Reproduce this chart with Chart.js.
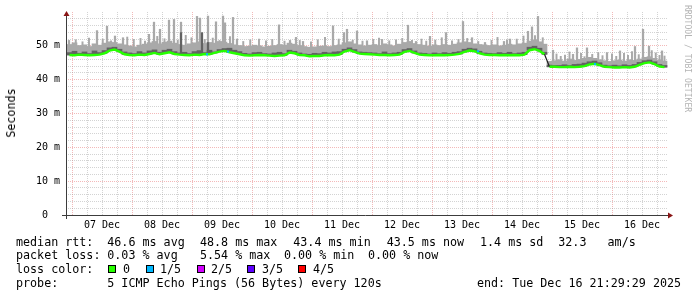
<!DOCTYPE html>
<html>
<head>
<meta charset="utf-8">
<title>median rtt</title>
<script src="https://cdn.jsdelivr.net/npm/chart.js@4.4.1/dist/chart.umd.min.js"></script>
<style>
  body { margin: 0; background: #fff; }
  #wrap { position: relative; width: 697px; height: 297px; font-family: 'DejaVu Sans Mono', monospace; color: #000; overflow: hidden; }
  #graph { position: absolute; left: 0; top: 0; }
  .txt { position: absolute; font-size: 11.7px; line-height: 14px; white-space: pre; }
  .box { position: absolute; width: 6px; height: 6px; border: 1px solid #000; }
  #ylabel { position: absolute; left: 11px; top: 113px; font-size: 11.7px; line-height: 14px; white-space: nowrap; transform: translate(-50%, -50%) rotate(-90deg); }
  #credit { position: absolute; left: 683px; top: 5px; font-size: 8.1px; line-height: 9px; color: #b4b4b4; writing-mode: vertical-rl; white-space: nowrap; }
</style>
</head>
<body>
<div id="wrap">
  <canvas id="graph" width="697" height="297"></canvas>
  <div id="ylabel">Seconds</div>
  <div id="credit">RRDTOOL / TOBI OETIKER</div>

  <div class="txt" style="left:16px; top:234.5px">median rtt:</div>
  <div class="txt" style="left:107.3px; top:234.5px">46.6 ms avg</div>
  <div class="txt" style="left:200px; top:234.5px">48.8 ms max</div>
  <div class="txt" style="left:293.3px; top:234.5px">43.4 ms min</div>
  <div class="txt" style="left:386.7px; top:234.5px">43.5 ms now</div>
  <div class="txt" style="left:480px; top:234.5px">1.4 ms sd</div>
  <div class="txt" style="left:558.3px; top:234.5px">32.3   am/s</div>

  <div class="txt" style="left:16px; top:248.3px">packet loss:</div>
  <div class="txt" style="left:107.3px; top:248.3px">0.03 % avg</div>
  <div class="txt" style="left:200px; top:248.3px">5.54 % max</div>
  <div class="txt" style="left:284px; top:248.3px">0.00 % min</div>
  <div class="txt" style="left:368px; top:248.3px">0.00 % now</div>

  <div class="txt" style="left:16px; top:262.1px">loss color:</div>
  <div class="box" style="left:108px; top:265px; background:#26ff00"></div>
  <div class="txt" style="left:123px; top:262.1px">0</div>
  <div class="box" style="left:146px; top:265px; background:#00b8ff"></div>
  <div class="txt" style="left:160px; top:262.1px">1/5</div>
  <div class="box" style="left:197px; top:265px; background:#d200ff"></div>
  <div class="txt" style="left:211px; top:262.1px">2/5</div>
  <div class="box" style="left:247px; top:265px; background:#5e00ff"></div>
  <div class="txt" style="left:262px; top:262.1px">3/5</div>
  <div class="box" style="left:298px; top:265px; background:#ff0000"></div>
  <div class="txt" style="left:313px; top:262.1px">4/5</div>

  <div class="txt" style="left:16px; top:275.9px">probe:</div>
  <div class="txt" style="left:107.3px; top:275.9px">5 ICMP Echo Pings (56 Bytes) every 120s</div>
  <div class="txt" style="left:477px; top:275.9px">end: Tue Dec 16 21:29:29 2025</div>
</div>

<script>
'use strict';

// data -----------------------------------------------------------------------
// hours are counted from 07 Dec 00:00, smoke is kept in two-hour bins
let firstBinHour = -1;
let binStep = 2;
let dayLabels = ['07 Dec', '08 Dec', '09 Dec', '10 Dec', '11 Dec', '12 Dec', '13 Dec', '14 Dec', '15 Dec', '16 Dec'];

// median rtt per bin (ms)
let medianRtt = [
  47.3, 47.2, 47.4, 47.3, 47.2, 47.3, 47.4, 47.8, 48.6, 48.9,
  48.3, 47.5, 47.3, 47.2, 47.4, 47.3, 47.6, 47.9, 47.5, 47.8,
  48.1, 47.6, 47.4, 47.3, 47.2, 47.4, 47.3, 47.6, 47.5, 47.9,
  48.3, 48.5, 48.1, 47.8, 47.5, 47.2, 47.1, 47.2, 47.3, 47.2,
  47.1, 47.0, 47.1, 47.2, 48.0, 47.8, 47.3, 47.2, 46.9, 47.0,
  47.0, 47.2, 47.3, 47.2, 47.4, 48.3, 48.7, 48.2, 47.7, 47.6,
  47.5, 47.4, 47.3, 47.3, 47.2, 47.3, 47.4, 48.2, 48.5, 47.9,
  47.4, 47.3, 47.2, 47.2, 47.3, 47.2, 47.3, 47.4, 47.6, 48.2,
  48.6, 48.4, 47.8, 47.4, 47.3, 47.3, 47.2, 47.3, 47.2, 47.3,
  47.2, 47.4, 48.7, 49.0, 48.5, 47.5, 43.8, 43.8, 43.7, 43.7,
  43.8, 43.7, 43.8, 44.0, 44.5, 44.7, 44.3, 43.8, 43.7, 43.6,
  43.6, 43.7, 43.6, 43.8, 44.4, 44.9, 45.1, 44.6, 43.9, 43.7
];

// top of the dark smoke per bin (ms)
let smokeDark = [
  48.0, 48.4, 47.8, 48.2, 47.7, 48.5, 48.0, 48.6, 49.4, 49.6,
  49.0, 48.2, 47.9, 47.7, 48.3, 47.9, 48.5, 48.8, 48.1, 48.7,
  49.0, 48.3, 47.9, 48.1, 47.7, 48.3, 48.6, 48.0, 48.7, 48.2,
  48.9, 49.2, 49.3, 48.7, 48.3, 47.8, 47.6, 48.0, 48.1, 47.7,
  47.6, 47.9, 48.1, 47.7, 48.7, 48.4, 47.9, 47.6, 47.5, 47.8,
  47.7, 48.1, 47.9, 48.2, 48.3, 49.0, 49.4, 48.9, 48.2, 48.1,
  48.0, 47.9, 47.7, 48.2, 47.7, 47.9, 48.1, 48.9, 49.2, 48.5,
  47.9, 47.8, 47.6, 47.9, 47.7, 48.0, 47.8, 48.1, 48.3, 49.0,
  49.3, 49.1, 48.4, 47.9, 47.8, 47.7, 48.0, 47.8, 48.1, 47.7,
  47.9, 48.1, 49.6, 49.9, 49.3, 48.1, 44.3, 44.2, 44.2, 44.4,
  44.2, 44.5, 44.6, 44.9, 45.3, 45.5, 45.0, 44.3, 44.1, 44.3,
  44.1, 44.4, 44.2, 44.5, 45.1, 45.6, 45.8, 45.3, 44.5, 44.2
];

// top of the light smoke per bin (ms)
let smokeTop = [
  50.4, 50.9, 50.1, 50.3, 49.8, 50.6, 50.2, 50.8, 51.2, 51.0,
  50.6, 50.3, 50.0, 49.7, 50.2, 50.5, 50.9, 51.3, 50.6, 51.1,
  51.4, 50.8, 50.4, 50.2, 50.6, 50.9, 51.2, 50.7, 51.0, 50.8,
  51.3, 51.1, 50.7, 50.3, 50.1, 49.8, 49.9, 50.2, 50.0, 49.7,
  49.9, 50.1, 50.4, 50.2, 50.8, 50.5, 50.1, 49.8, 49.6, 49.7,
  49.9, 50.0, 49.8, 50.1, 50.3, 50.9, 51.2, 50.6, 50.3, 50.0,
  50.2, 50.4, 50.1, 50.6, 50.3, 50.0, 50.5, 51.0, 51.3, 50.7,
  50.4, 50.2, 49.9, 50.3, 50.1, 50.4, 50.2, 50.5, 50.9, 51.2,
  51.0, 50.6, 50.4, 50.3, 50.1, 50.3, 50.0, 50.2, 50.5, 50.3,
  50.6, 50.8, 51.4, 51.8, 51.2, 50.5, 45.4, 45.6, 45.9, 45.5,
  46.1, 45.7, 46.0, 46.3, 46.6, 46.3, 45.9, 45.6, 45.4, 45.6,
  45.8, 45.5, 45.9, 45.7, 46.1, 46.6, 46.8, 46.3, 45.8, 45.5
];

// single slow pings that stick far out of the smoke
let spikeHours = [-1.2, 10, 14, 17.2, 20.4, 30.8, 32.8, 35.2, 38.8, 40.8,
  43.6, 50, 51.2, 54.4, 57.6, 60.4, 61.2, 64.4, 66, 82.8,
  87.2, 89.6, 92.4, 104.4, 108.8, 110, 114, 118, 124, 134.4,
  137.6, 143.2, 149.6, 156.4, 160, 165.2, 172.8, 175.2, 182.4, 184,
  186.4, 192.4, 200.4, 202, 206, 214, 219.2, 225.2, 228.4, 230.8, 236];
let spikeTops = [51.6, 54.5, 55.8, 52.9, 52.4, 53.4, 57.0, 54.9, 57.6, 57.8,
  57.0, 58.7, 58.2, 58.8, 57.1, 58.8, 56.8, 58.4, 52.0, 56.2,
  51.6, 52.5, 51.3, 55.9, 53.9, 54.9, 54.4, 51.5, 51.9, 56.1,
  51.3, 52.8, 53.9, 57.2, 52.4, 51.0, 51.3, 52.0, 54.3, 55.6,
  58.7, 48.7, 47.5, 49.4, 49.4, 48.0, 48.5, 49.8, 54.9, 49.9, 48.5];

// smaller bumps that make the ragged top of the smoke
let smallSpikeHours = [1.5, 4.2, 6.8, 12.3, 15.6, 22.1, 24.7, 27.4, 29.2, 34.1,
  37.0, 42.3, 45.5, 47.8, 53.1, 56.3, 59.0, 63.2, 68.5, 71.3,
  74.8, 77.6, 80.1, 85.0, 91.1, 95.6, 98.3, 101.2, 106.7, 112.3,
  116.2, 120.5, 122.8, 126.9, 129.6, 132.1, 136.0, 139.8, 141.7, 145.3,
  147.9, 152.0, 154.6, 158.1, 162.5, 167.8, 170.2, 174.0, 177.9, 180.6,
  185.2, 188.3, 193.8, 195.5, 197.2, 199.0, 203.6, 205.0, 208.1, 210.5,
  212.2, 216.0, 217.7, 220.8, 222.4, 224.0, 226.7, 231.9, 233.5, 235.0, 237.0];
let smallSpikeTops = [51.8, 51.2, 52.3, 52.0, 51.5, 52.6, 51.9, 52.2, 51.4, 52.8,
  52.1, 51.7, 53.1, 52.4, 51.9, 52.3, 51.6, 52.7, 51.3, 51.8,
  52.0, 51.5, 51.9, 51.4, 51.6, 51.2, 51.8, 52.5, 52.0, 51.7,
  51.4, 51.9, 52.3, 51.5, 51.8, 52.2, 51.6, 52.0, 51.4, 51.7,
  52.4, 51.5, 51.9, 52.2, 51.3, 51.6, 52.5, 51.8, 52.0, 52.9,
  53.0, 52.4, 47.6, 46.9, 47.3, 48.2, 47.8, 46.8, 47.5, 48.0,
  47.1, 47.6, 46.9, 47.8, 47.2, 48.3, 47.4, 48.6, 47.9, 47.2, 47.0];

let darkSpikeHours = [43.6, 52, 54.4];
let darkSpikeTops = [53.9, 53.9, 51.0];

// median samples with 1 of 5 pings lost
let lossHours = [54, 62.4, 162.4, 209.2];
let lossValues = [47.5, 48.3, 48.4, 44.6];

// colours --------------------------------------------------------------------
let lightGrey = '#a9a9a9';
let darkGrey = '#626262';
let lossGreen = '#26ff00';
let lossBlue = '#00b8ff';
let majorGrid = 'rgba(228, 100, 100, 0.45)';
let minorGrid = 'rgba(150, 150, 150, 0.42)';

// build the datasets ---------------------------------------------------------
let binHours = medianRtt.map((v, i) => firstBinHour + i * binStep);

function binIndex(hour) {
  return Math.round((hour - firstBinHour) / binStep);
}

function spikeBars(hours, tops) {
  return hours.map((h, i) => ({ x: h, y: [medianRtt[binIndex(h)], tops[i]] }));
}

let lightSmoke = binHours.map((h, i) => ({ x: h, y: [medianRtt[i], smokeTop[i]] }));
let darkSmoke = binHours.map((h, i) => ({ x: h, y: [medianRtt[i], smokeDark[i]] }));
let spikes = spikeBars(spikeHours, spikeTops);
let smallSpikes = spikeBars(smallSpikeHours, smallSpikeTops);
let darkSpikes = spikeBars(darkSpikeHours, darkSpikeTops);
let medianLine = binHours.map((h, i) => ({ x: h, y: medianRtt[i] }));
let lossPoints = lossHours.map((h, i) => ({ x: h, y: lossValues[i] }));

// axis lines with the little rrdtool arrows
let rrdAxes = {
  id: 'rrdAxes',
  afterDatasetsDraw(chart) {
    let c = chart.ctx;
    let a = chart.chartArea;
    let x0 = a.left + 0.5;
    let y0 = a.bottom + 0.5;
    c.save();
    c.strokeStyle = '#3c3c3c';
    c.lineWidth = 1;
    c.beginPath();
    c.moveTo(x0, a.top + 3);
    c.lineTo(x0, a.bottom + 4);
    c.moveTo(a.left - 4, y0);
    c.lineTo(a.right + 1, y0);
    c.stroke();
    c.fillStyle = '#8a1515';
    c.beginPath();
    c.moveTo(x0, a.top - 1);
    c.lineTo(x0 - 3, a.top + 4);
    c.lineTo(x0 + 3, a.top + 4);
    c.closePath();
    c.fill();
    c.beginPath();
    c.moveTo(a.right + 5, y0);
    c.lineTo(a.right, y0 - 3);
    c.lineTo(a.right, y0 + 3);
    c.closePath();
    c.fill();
    c.restore();
  }
};

// chart ----------------------------------------------------------------------
let ctx = document.getElementById('graph').getContext('2d');

let chartObject = {
  type: 'bar',
  data: {
    datasets: [
      { type: 'bar', data: spikes, backgroundColor: lightGrey, barThickness: 1.6, grouped: false, borderWidth: 0, order: 6 },
      { type: 'bar', data: smallSpikes, backgroundColor: lightGrey, barThickness: 1.3, grouped: false, borderWidth: 0, order: 5 },
      { type: 'bar', data: lightSmoke, backgroundColor: lightGrey, barThickness: 5, grouped: false, borderWidth: 0, order: 4 },
      { type: 'bar', data: darkSpikes, backgroundColor: darkGrey, barThickness: 1.6, grouped: false, borderWidth: 0, order: 3 },
      { type: 'bar', data: darkSmoke, backgroundColor: darkGrey, barThickness: 5, grouped: false, borderWidth: 0, order: 2 },
      {
        type: 'line',
        data: medianLine,
        borderColor: lossGreen,
        borderWidth: 2.4,
        pointRadius: 0,
        tension: 0,
        order: 1,
        segment: {
          borderColor: s => Math.abs(s.p1.parsed.y - s.p0.parsed.y) > 2 ? '#1e1e1e' : undefined,
          borderWidth: s => Math.abs(s.p1.parsed.y - s.p0.parsed.y) > 2 ? 1.2 : undefined
        }
      },
      {
        type: 'line',
        data: lossPoints,
        showLine: false,
        pointStyle: 'rect',
        pointRadius: 1.5,
        pointBorderWidth: 0,
        pointBackgroundColor: lossBlue,
        order: 0
      }
    ]
  },
  options: {
    responsive: false,
    animation: false,
    layout: { padding: { left: 0, top: 10, right: 29, bottom: 0 } },
    font: { family: 'DejaVu Sans Mono' },
    plugins: {
      legend: { display: false },
      tooltip: { enabled: false }
    },
    scales: {
      x: {
        type: 'linear',
        min: -2.4,
        max: 238.4,
        offset: false,
        grid: {
          offset: false,
          drawTicks: false,
          lineWidth: 1,
          color: c => (c.tick && c.tick.value % 24 === 0) ? majorGrid : minorGrid
        },
        border: { display: false, dash: [1, 1] },
        ticks: {
          stepSize: 6,
          includeBounds: false,
          autoSkip: false,
          maxRotation: 0,
          padding: 4,
          color: '#000',
          font: { family: 'DejaVu Sans Mono', size: 10 },
          callback: function (value) {
            if (((value % 24) + 24) % 24 !== 12) {
              return '';
            }
            return dayLabels[Math.floor(value / 24)];
          }
        },
        afterFit: function (scale) {
          scale.height = 82;
        }
      },
      y: {
        type: 'linear',
        min: 0,
        max: 60,
        grid: {
          drawTicks: false,
          lineWidth: 1,
          color: function (c) {
            if (!c.tick || c.tick.value >= 60) {
              return 'rgba(0,0,0,0)';
            }
            return c.tick.value % 10 === 0 ? majorGrid : minorGrid;
          }
        },
        border: { display: false, dash: [1, 1] },
        ticks: {
          stepSize: 2,
          includeBounds: false,
          autoSkip: false,
          padding: 6,
          color: '#000',
          font: { family: 'DejaVu Sans Mono', size: 10 },
          callback: function (value) {
            if (value === 0) {
              return '0  ';
            }
            if (value % 10 !== 0 || value >= 60) {
              return '';
            }
            return value + ' m';
          }
        },
        afterFit: function (scale) {
          scale.width = 66;
        }
      }
    }
  },
  plugins: [rrdAxes]
};

let rttChart = new Chart(ctx, chartObject);
</script>
</body>
</html>
